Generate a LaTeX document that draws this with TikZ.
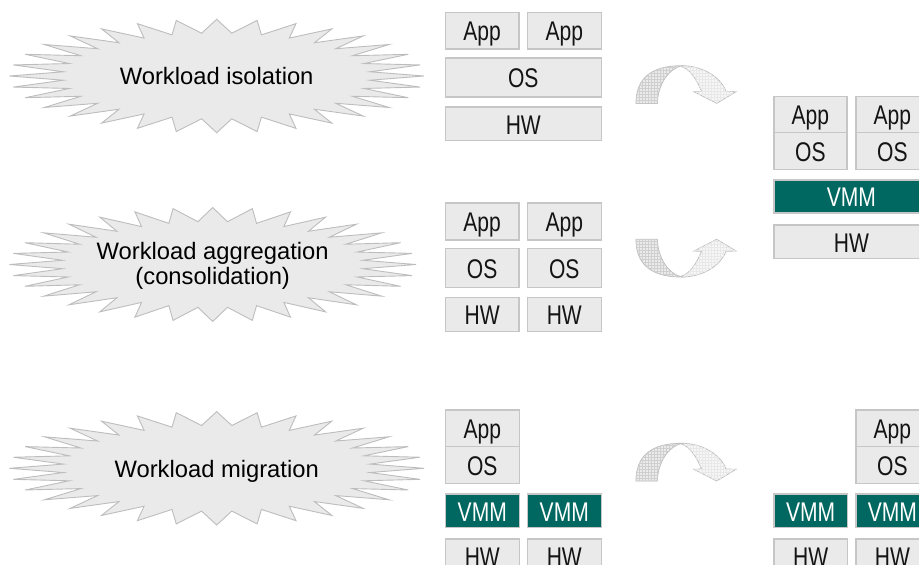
\documentclass[tikz,border=0pt]{standalone}
\usepackage{fontspec}
\setmainfont{Liberation Sans}
\newfontfamily\narrowfont[FakeStretch=0.78]{Liberation Sans}
\usetikzlibrary{patterns}

\definecolor{boxfill}{HTML}{EAEAEA}
\definecolor{boxline}{HTML}{C6C6C6}
\definecolor{vmmteal}{RGB}{0,104,97}
\definecolor{burstfill}{HTML}{EAEAEA}
\definecolor{burstline}{HTML}{BDBDBD}
\definecolor{arrowline}{HTML}{BEBEBE}

% Spiky burst: centre (#1,#2), tip radii #3/#4, valley radii #5/#6
\newcommand\drawburst[6]{%
  \draw[burst] ({#1+#3},{#2})
    \foreach \k in {0,...,31}{
      -- ({#1+#5*cos((\k+0.5)*11.25)},{#2+#6*sin((\k+0.5)*11.25)})
      -- ({#1+#3*cos((\k+1)*11.25)},{#2+#4*sin((\k+1)*11.25)})
    } -- cycle;}

\begin{document}
\begin{tikzpicture}[x=1pt,y=-1pt,
  cell/.style 2 args={draw=boxline, fill=boxfill, line width=1.2pt,
    inner sep=0pt, anchor=north west, minimum width=#1, minimum height=#2,
    font=\narrowfont\fontsize{27}{27}\selectfont, text=black!92,
    text height=20.5pt, text depth=0pt},
  vmmcell/.style 2 args={cell={#1}{#2}, fill=vmmteal, text=white},
  burst/.style={draw=burstline, fill=burstfill, line width=0.9pt, line join=miter},
  burstlabel/.style={font=\fontsize{23.75}{26}\selectfont, anchor=base,
    inner sep=0pt, text=black},
  turnarrow/.pic={
    % front (light) half with the arrow head
    \filldraw[fill=gray!7, draw=arrowline, line width=0.8pt,
      postaction={pattern=grid, pattern color=gray!18}]
      (45.7,0) .. controls (65,0) and (84,10) .. (90,25.7) -- (100,26)
      -- (80.7,37.7) -- (58,26) -- (65.5,25.7)
      .. controls (60,12) and (53,3) .. (45.7,1) -- cycle;
    % back (darker) half
    \filldraw[fill=gray!16, draw=arrowline, line width=0.8pt,
      postaction={pattern=grid, pattern color=gray!38}]
      (0,37.7) .. controls (0,12) and (16,0) .. (45.7,0)
      .. controls (33,3) and (22,18) .. (21.3,37.7) -- cycle;
  }]
\useasboundingbox (0,0) rectangle (919,565);
\clip (0,0) rectangle (919,565);

% ---- bursts with their labels ----
\drawburst{216.7}{76}{207.3}{56.7}{154}{43}
\node[burstlabel] (isol) at (216.7,84.3) {Workload isolation};

\drawburst{212.7}{264.5}{203.3}{57}{151}{43}
\node[burstlabel] (aggr) at (212.7,259) {Workload aggregation};
\node[burstlabel] (cons) at (212.7,284.5) {(consolidation)};

\drawburst{216.7}{468.3}{207.3}{56.7}{154}{43}
\node[burstlabel] (migr) at (216.7,477.3) {Workload migration};

% ---- one OS on one machine ----
\node[cell={73.6pt}{36.6pt}] (appA1) at (444.7,11.7) {App};
\node[cell={74pt}{36.6pt}]   (appA2) at (526.7,11.7) {App};
\node[cell={156pt}{39pt}]    (osA)   at (444.7,57.3) {OS};
\node[cell={156pt}{33.7pt}]  (hwA)   at (444.7,106.3) {HW};

% ---- two separate machines ----
\node[cell={73.6pt}{37pt}]   (appB1) at (444.7,202.3) {App};
\node[cell={74pt}{37pt}]     (appB2) at (526.7,202.3) {App};
\node[cell={73.6pt}{39.3pt}] (osB1)  at (444.7,247.7) {OS};
\node[cell={74pt}{39.3pt}]   (osB2)  at (526.7,247.7) {OS};
\node[cell={73.6pt}{34pt}]   (hwB1)  at (444.7,297) {HW};
\node[cell={74pt}{34pt}]     (hwB2)  at (526.7,297) {HW};

% ---- consolidated machine ----
\node[cell={73pt}{36.3pt}]    (appC1) at (773.3,95.7) {App};
\node[cell={73pt}{36.3pt}]    (appC2) at (855.3,95.7) {App};
\node[cell={73pt}{36.7pt}]    (osC1)  at (773.3,132) {OS};
\node[cell={73pt}{36.7pt}]    (osC2)  at (855.3,132) {OS};
\node[vmmcell={155pt}{33pt}]  (vmmC)  at (773.3,179.3) {VMM};
\node[cell={155pt}{33.7pt}]   (hwC)   at (773.3,224.3) {HW};

% ---- migration: source ----
\node[cell={74pt}{36.7pt}]      (appD)  at (444.7,409.3) {App};
\node[cell={74pt}{36.7pt}]      (osD)   at (444.7,446) {OS};
\node[vmmcell={74pt}{33.7pt}]   (vmmD1) at (444.7,493.3) {VMM};
\node[vmmcell={74pt}{33.7pt}]   (vmmD2) at (526.7,493.3) {VMM};
\node[cell={74pt}{34pt}]        (hwD1)  at (444.7,538.3) {HW};
\node[cell={74pt}{34pt}]        (hwD2)  at (526.7,538.3) {HW};

% ---- migration: target ----
\node[cell={73pt}{36.7pt}]      (appE)  at (855.3,409.3) {App};
\node[cell={73pt}{36.7pt}]      (osE)   at (855.3,446) {OS};
\node[vmmcell={73.4pt}{33.7pt}] (vmmE1) at (773.3,493.3) {VMM};
\node[vmmcell={73pt}{33.7pt}]   (vmmE2) at (855.3,493.3) {VMM};
\node[cell={73.4pt}{34pt}]      (hwE1)  at (773.3,538.3) {HW};
\node[cell={73pt}{34pt}]        (hwE2)  at (855.3,538.3) {HW};

% ---- turning arrows ----
\pic at (636,65.7) {turnarrow};
\pic[yscale=-1] at (636,277) {turnarrow};
\pic at (636,443.3) {turnarrow};
\end{tikzpicture}
\end{document}
